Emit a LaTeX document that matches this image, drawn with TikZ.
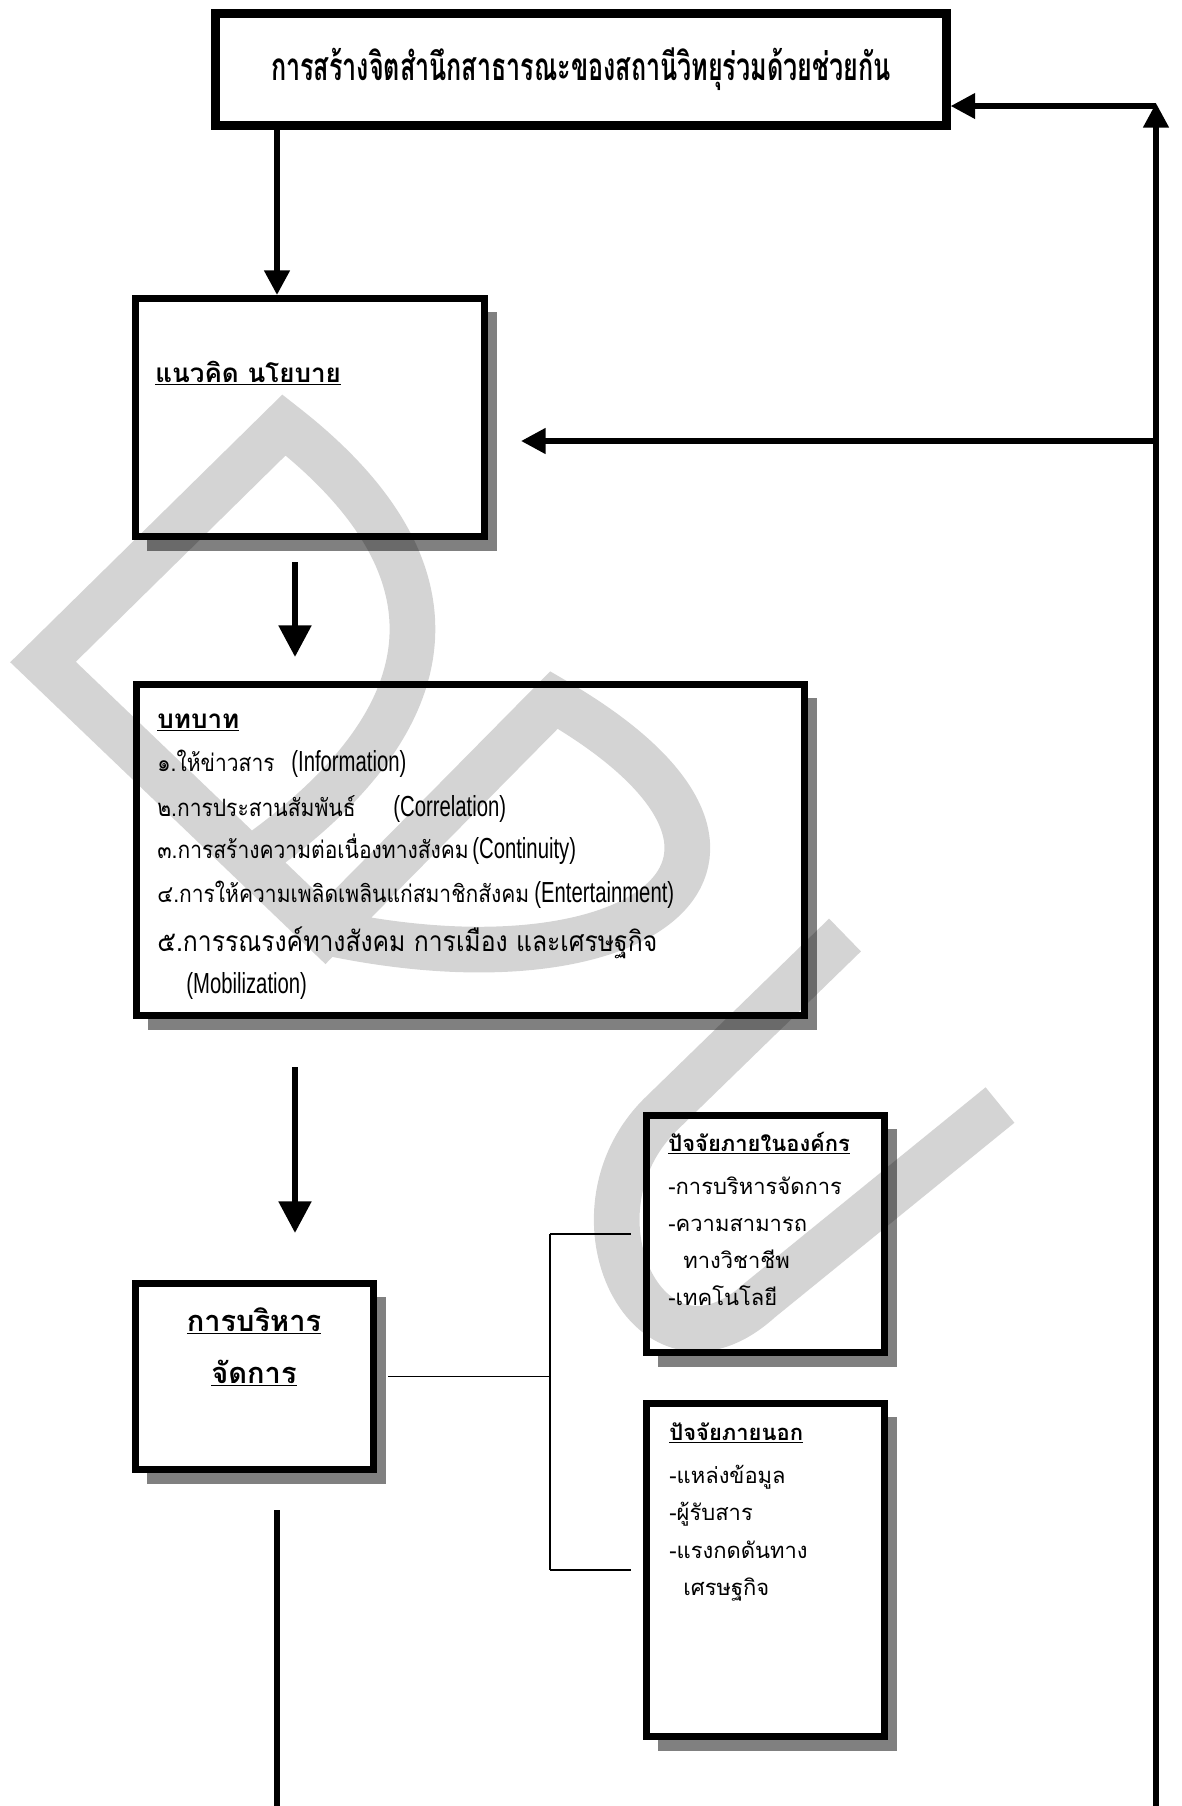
\documentclass[tikz,border=0pt]{standalone}
\usepackage{fontspec}
\setmainfont{Liberation Sans}
\newfontfamily\thai[Script=Thai]{Loma}
\newfontfamily\thainarrow[Script=Thai,FakeStretch=0.88]{Loma}
\newfontfamily\thaititle[Script=Thai,FakeStretch=0.65]{Loma}
\newfontfamily\latnarrow[FakeStretch=0.7]{Liberation Sans}
\usepackage{tikz}
\usetikzlibrary{positioning, arrows.meta, shadows}
\definecolor{shadowgray}{HTML}{808080}

\begin{document}
\begin{tikzpicture}[x=0.02cm, y=-0.02cm,
    box/.style={draw, line width=3.8pt, fill=white, inner sep=0pt, anchor=north west},
    shbox/.style={box, drop shadow={shadow xshift=2.4mm, shadow yshift=-2.8mm, fill=shadowgray, opacity=1}},
    arr/.style={line width=3.2pt, -{Triangle[length=14pt, width=14pt]}},
    bigarr/.style={line width=3.6pt, -{Triangle[length=18pt, width=18pt]}},
    link/.style={line width=1pt},
    txt/.style={anchor=base west, inner sep=0pt},
    head/.style={txt, font=\thai\bfseries\fontsize{14.8}{17}\selectfont},
    subhead/.style={txt, font=\thai\bfseries\fontsize{12.5}{15}\selectfont},
    item/.style={txt, font=\thai\fontsize{12.5}{15}\selectfont},
    role/.style={txt, font=\thainarrow\fontsize{13.6}{16}\selectfont},
    eng/.style={txt, font=\latnarrow\fontsize{16.5}{19}\selectfont},
    wmark/.style={line width=26pt, black, opacity=0.17, line join=miter}
]
\useasboundingbox (0,0) rectangle (1181,1806);

% Main boxes
\node[box, line width=5pt, minimum width=14.62cm, minimum height=2.24cm,
      font=\thaititle\bfseries\fontsize{22}{25}\selectfont] (title) at (211,9)
      {การสร้างจิตสำนึกสาธารณะของสถานีวิทยุร่วมด้วยช่วยกัน};
\node[shbox, minimum width=6.99cm, minimum height=4.77cm] (concept) at (132,295) {};
\node[shbox, minimum width=13.37cm, minimum height=6.63cm] (roles) at (133,681) {};
\node[shbox, minimum width=4.77cm, minimum height=3.73cm] (mgmt) at (132,1280) {};

% Factor boxes
\node[shbox, minimum width=4.77cm, minimum height=4.75cm] (infac) at (643,1112) {};
\node[shbox, minimum width=4.77cm, minimum height=6.67cm] (exfac) at (643,1400) {};

% Texts
\node[head] (concepthd) at (155,382) {\underline{แนวคิด นโยบาย}};
\node[head] (roleshd) at (157,728) {\underline{บทบาท}};
\node[role] (r1) at (157,771) {๑.ให้ข่าวสาร};
\node[eng] (e1) at (291,771) {(Information)};
\node[role] (r2) at (157,816) {๒.การประสานสัมพันธ์};
\node[eng] (e2) at (393,816) {(Correlation)};
\node[role] (r3) at (157,858) {๓.การสร้างความต่อเนื่องทางสังคม};
\node[eng] (e3) at (472,858) {(Continuity)};
\node[role] (r4) at (157,902) {๔.การให้ความเพลิดเพลินแก่สมาชิกสังคม};
\node[eng] (e4) at (534,902) {(Entertainment)};
\node[txt, font=\thainarrow\fontsize{16}{19}\selectfont] (r5) at (157,951) {๕.การรณรงค์ทางสังคม การเมือง และเศรษฐกิจ};
\node[eng] (e5) at (186,993) {(Mobilization)};

\node[head, anchor=base, font=\thai\bfseries\fontsize{16.5}{19}\selectfont] (mgmthd1) at (254,1331) {\underline{การบริหาร}};
\node[head, anchor=base, font=\thai\bfseries\fontsize{16.5}{19}\selectfont] (mgmthd2) at (254,1383) {\underline{จัดการ}};

\node[subhead] (infachd) at (668,1151) {\underline{ปัจจัยภายในองค์กร}};
\node[item] (in1) at (668,1194) {-การบริหารจัดการ};
\node[item] (in2) at (668,1231) {-ความสามารถ};
\node[item] (in3) at (683,1268) {ทางวิชาชีพ};
\node[item] (in4) at (668,1305) {-เทคโนโลยี};

\node[subhead] (exfachd) at (669,1440) {\underline{ปัจจัยภายนอก}};
\node[item] (ex1) at (669,1483) {-แหล่งข้อมูล};
\node[item] (ex2) at (669,1520) {-ผู้รับสาร};
\node[item] (ex3) at (669,1558) {-แรงกดดันทาง};
\node[item] (ex4) at (683,1595) {เศรษฐกิจ};

% Main flow
\coordinate (a1) at (277,130);
\draw[arr] (title.south -| a1) -- (concept.north -| a1);
\coordinate (a3s) at (295,562);
\coordinate (a3e) at (295,657);
\draw[bigarr] (a3s) -- (a3e);
\coordinate (a4s) at (295,1067);
\coordinate (a4e) at (295,1233);
\draw[bigarr] (a4s) -- (a4e);
\coordinate (out) at (277,1510);
\coordinate (outend) at (277,1806);
\draw[line width=3pt] (out) -- (outend);

% Feedback loop on the right
\coordinate (fbbot) at (1156,1806);
\coordinate (fbtop) at (1156,103);
\coordinate (fbcorner) at (1156,106);
\coordinate (fbmid) at (521,441);
\draw[arr] (fbbot) -- (fbtop);
\draw[arr] (fbcorner) -- (title.east |- fbcorner);
\draw[arr] (fbbot |- fbmid) -- (fbmid);

% Bracket to the factors
\draw[link, shorten <=2.2mm] (mgmt.east) -- ++(173,0) coordinate (bj);
\draw[link] (bj |- infac.west) -- (bj |- exfac.west);
\draw[link, shorten >=2.4mm] (bj |- infac.west) -- (infac.west);
\draw[link, shorten >=2.4mm] (bj |- exfac.west) -- (exfac.west);

% Watermark
\draw[wmark] (250,860) .. controls (450,720) and (470,570) .. (284,425)
    -- (43,662) -- (325,932) -- (554,700)
    .. controls (830,860) and (640,1000) .. (325,932)
    (845,935) -- (660,1115) .. controls (560,1215) and (650,1400) .. (760,1300)
    -- (1000,1105);
\end{tikzpicture}
\end{document}
